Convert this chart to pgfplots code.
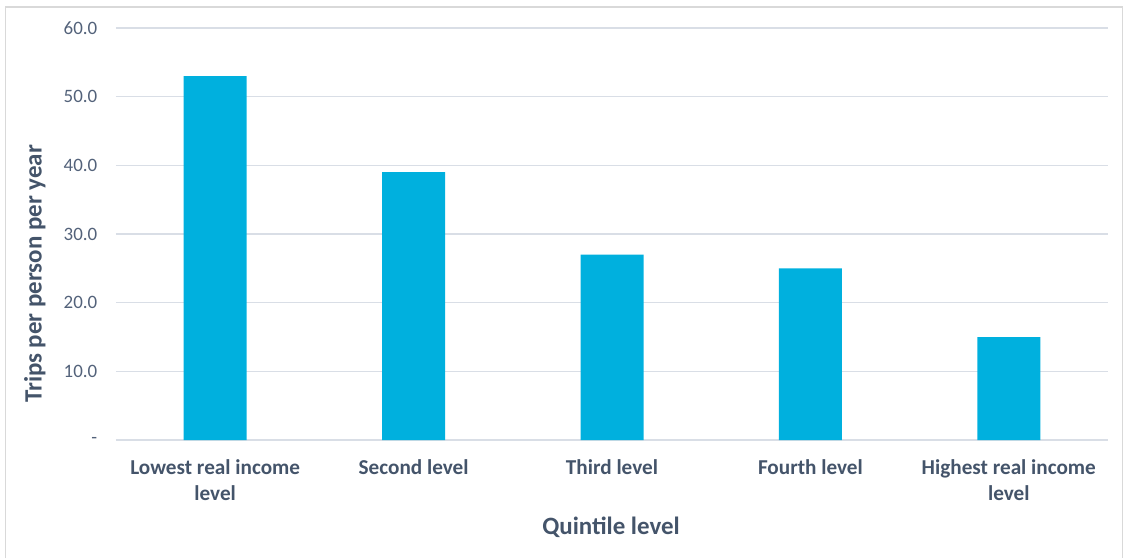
\documentclass[border=0pt]{standalone}
\usepackage{fontspec}
\setmainfont{Carlito}
\usepackage{pgfplots}
\pgfplotsset{compat=1.18}
\definecolor{barc}{HTML}{00B0DE}
\definecolor{txt}{HTML}{44546A}
\definecolor{tick}{HTML}{53627A}
\definecolor{gridc}{HTML}{D9DEE6}
\definecolor{frame}{HTML}{D9D9D9}
\begin{document}
\begin{tikzpicture}
\path[use as bounding box] (0pt,0pt) rectangle (846pt,418.5pt);
\draw[frame,line width=0.9pt] (4.1pt,0pt) -- (4.1pt,413.25pt) -- (841.9pt,413.25pt) -- (841.9pt,0pt);
\begin{axis}[
  at={(87pt,88.5pt)}, anchor=south west,
  scale only axis, width=744pt, height=309pt,
  ybar, bar width=47.25pt,
  xmin=-0.5, xmax=4.5, ymin=0, ymax=60,
  xtick={0,1,2,3,4},
  xticklabels={{Lowest real income\\level},{Second level},{Third level},{Fourth level},{Highest real income\\level}},
  ytick={0,10,20,30,40,50,60},
  yticklabels={-,10.0,20.0,30.0,40.0,50.0,60.0},
  /pgf/number format/assume math mode=true,
  major tick length=0pt,
  axis line style={draw=none},
  ymajorgrids, grid style={gridc,line width=1pt},
  yticklabel style={font=\fontsize{14.2}{16}\selectfont, text=tick, xshift=-10.5pt},
  xticklabel style={font=\bfseries\fontsize{15.9}{19.5}\selectfont, text=txt, align=center, yshift=-11pt},
  xlabel={Quintile level},
  ylabel={Trips per person per year},
  xlabel style={font=\bfseries\fontsize{18.7}{21}\selectfont, text=txt, at={(axis description cs:0.499,-0.211)}, anchor=center},
  ylabel style={font=\bfseries\fontsize{18.7}{21}\selectfont, text=txt, at={(axis description cs:-0.0817,0.403)}, anchor=center},
]
\addplot[fill=barc, draw=none] coordinates {(0,53) (1,39) (2,27) (3,25) (4,15)};
\end{axis}
\end{tikzpicture}
\end{document}
